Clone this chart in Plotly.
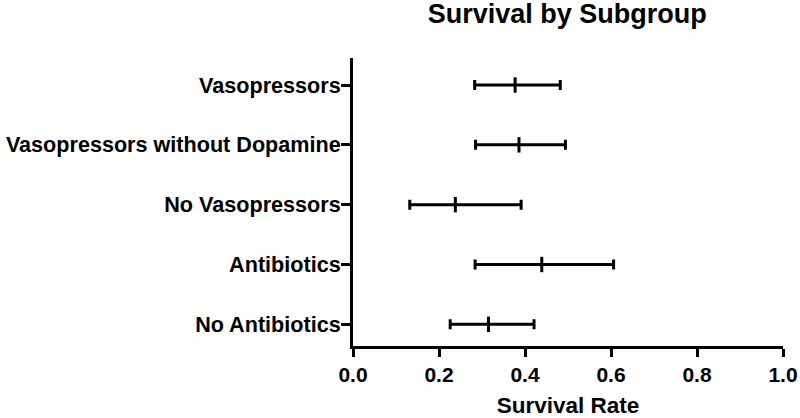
import plotly.graph_objects as go

categories = ["Vasopressors", "Vasopressors without Dopamine", "No Vasopressors",
              "Antibiotics", "No Antibiotics"]
survival = [0.377, 0.386, 0.238, 0.439, 0.315]
ci_low = [0.283, 0.285, 0.132, 0.284, 0.226]
ci_high = [0.482, 0.494, 0.391, 0.606, 0.421]
x_ticks = [0.0, 0.2, 0.4, 0.6, 0.8, 1.0]

err_plus = [h - m for h, m in zip(ci_high, survival)]
err_minus = [m - l for m, l in zip(survival, ci_low)]

FONT = "Liberation Sans, Arial, sans-serif"

fig = go.Figure()
fig.add_trace(go.Scatter(
    x=survival, y=categories, mode="markers",
    marker=dict(symbol="line-ns", size=11, line=dict(width=3, color="black"), color="black"),
    error_x=dict(type="data", symmetric=False, array=err_plus, arrayminus=err_minus,
                 color="black", thickness=3, width=5),
    showlegend=False, hoverinfo="x+y",
))

fig.update_layout(
    width=800, height=418,
    paper_bgcolor="white", plot_bgcolor="white",
    margin=dict(l=353, r=17, t=58, b=72),
    title=dict(text="Survival by Subgroup", x=0.709, xanchor="center", y=0.99, yanchor="top",
               font=dict(family=FONT, size=27, color="black", weight="bold")),
    font=dict(family=FONT, color="black"),
)
fig.update_xaxes(
    range=[0, 1.0], tickvals=x_ticks, ticktext=[f"{v:.1f}" for v in x_ticks],
    showgrid=False, zeroline=False, showline=True, linecolor="black", linewidth=3,
    ticks="outside", ticklen=8, tickwidth=3, tickcolor="black",
    tickfont=dict(family=FONT, size=21, color="black", weight="bold"),
    title=dict(text="Survival Rate", standoff=13,
               font=dict(family=FONT, size=22.5, color="black", weight="bold")),
    automargin=False,
)
fig.update_yaxes(
    type="category", categoryorder="array", categoryarray=categories[::-1],
    range=[-0.363, 4.452],
    showgrid=False, zeroline=False, showline=True, linecolor="black", linewidth=3,
    ticks="outside", ticklen=9, tickwidth=3, tickcolor="black",
    ticklabelstandoff=-4,
    tickfont=dict(family=FONT, size=21.6, color="black", weight="bold"),
    automargin=False,
)

fig.write_html("out.html", config={"displayModeBar": False},
               post_script="document.body.style.margin='0';document.body.style.overflow='hidden';")
